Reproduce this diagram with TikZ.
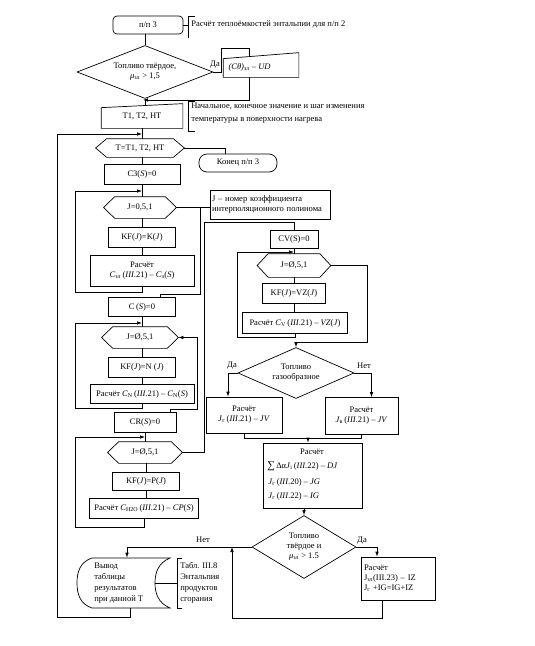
\documentclass[tikz,border=0pt]{standalone}
\usepackage{fontspec}
\setmainfont{Liberation Serif}
\usetikzlibrary{arrows.meta,shapes.geometric,calc}
\newcommand\hexn[6]{%
  \node[hexin, minimum width=#4, minimum height=#5] (#1) at (#2,#3) {#6};
  \draw (#1.west) -- ($(#1.north west)+(11,0)$) -- ($(#1.north east)+(-11,0)$) -- (#1.east) -- ($(#1.south east)+(-11,0)$) -- ($(#1.south west)+(11,0)$) -- cycle;}
\begin{document}
\begin{tikzpicture}[x=1pt,y=-1pt,line width=0.7pt,
  every node/.style={font=\fontsize{8.5}{10}\selectfont, inner sep=1pt},
  box/.style={draw, rectangle},
  hexin/.style={rectangle, inner sep=0pt},
  arr/.style={-{Latex[length=5pt,width=3.6pt]}},
  dia/.style={draw, diamond, inner sep=0pt, align=center},
  note/.style={align=left, font=\fontsize{8.5}{12.5}\selectfont},
]
\useasboundingbox (0,0) rectangle (535,646);

% ---------- top ----------
\node[draw, rounded corners=4pt, minimum width=70, minimum height=18] (n0) at (148,25) {п/п 3};
\draw (n0.east) -- (188,25);
\draw (195,16) -- (188,16) -- (188,38);
\node[anchor=west] (c0) at (190,24) {Расчёт теплоёмкостей энтальпии для п/п 2};

\node[dia, aspect=2.5, minimum width=136, minimum height=53] (d1) at (145,72) {Топливо твёрдое,\\ \textit{μ}\textsubscript{зл} > 1,5};
\draw (d1.north |- n0.south) -- (d1.north);
\node[inner sep=0pt] (yes1) at (215,65) {Да};

\node[minimum width=75, minimum height=24] (ud) at (261,65) {};
\draw[arr] (d1.east) -- (221,72) |- (249,48) |- (143,100);
\draw[fill=white] ($(ud.north west)+(0,6)$) -- (ud.north east) -- (ud.south east) -- (ud.south west) -- cycle;
\node[anchor=west] (udt) at ($(ud.west)+(4,2)$) {\textit{(Cθ)}\textsubscript{зл} \textit{– UD}};

\node[minimum width=81, minimum height=24] (t1) at (142,116) {T1, T2, HT};
\draw ($(t1.north west)+(0,4)$) -- (t1.north east) -- (t1.south east) -- (t1.south west) -- cycle;
\draw (d1.south) -- ($(d1.south |- t1.north)+(0,2)$);
\draw (195,101) -- (188,101) -- (188,131) -- (195,131);
\node[note, anchor=north west] (c1) at (190,102) {Начальное, конечное значение и шаг изменения\\температуры в поверхности нагрева};

% ---------- main loop ----------
\hexn{hT}{140}{148}{88}{18}{T=T1, T2, HT}
\draw (t1.south) -- (t1.south |- hT.north);
\node[draw, rounded corners=8pt, minimum width=78, minimum height=18] (kon) at (238,163) {Конец п/п 3};
\draw (hT.east) -| ($(kon.north)+(-13,0)$);

\node[box, minimum width=76, minimum height=20] (c3) at (142,174) {C3(\textit{S})=0};
\draw (c3.north |- hT.south) -- (c3.north);

% loop 1
\hexn{hJ1}{140}{207.5}{72}{21}{J=0,5,1}
\draw (c3.south) -- (c3.south |- hJ1.north);
\node[box, minimum width=67, minimum height=20] (kf1) at (142,237) {KF(\textit{J})=K(\textit{J})};
\draw (kf1.north |- hJ1.south) -- (kf1.north);
\node[box, minimum width=104, minimum height=31, align=center] (r1) at (142,270.5) {Расчёт\\ \textit{C}\textsubscript{зл}\,(\textit{III}.21) – \textit{C}\textsubscript{з}(\textit{S})};
\draw (kf1.south) -- (r1.north);
\draw[arr] (r1.south) |- (75,292) |- (142,191);
\node[draw, minimum width=120, minimum height=29, text width=116, align=left] (cJ) at (270,204.5) {J – номер коэффициента\\интерполяционного полинома};
\draw (hJ1.east) -- (hJ1.east -| cJ.west);

\node[box, minimum width=67, minimum height=19] (cS) at (142,307) {C\,(\textit{S})=0};
\draw ($(cS.north)+(18,0)$) |- (200,294) |- (hJ1.east);

% loop 2
\hexn{hJ2}{140}{337.5}{76}{21}{J=Ø,5,1}
\draw (cS.south) -- (cS.south |- hJ2.north);
\node[box, minimum width=67, minimum height=20] (kf2) at (142,367) {KF(\textit{J})=N (\textit{J})};
\draw (kf2.north |- hJ2.south) -- (kf2.north);
\node[box, minimum width=104, minimum height=19] (r2) at (142,394) {Расчёт \textit{C}\textsubscript{N}\,(\textit{III}.21) – \textit{C}\textsubscript{N}(\textit{S})};
\draw (kf2.south) -- (r2.north);
\draw[arr] (r2.south) |- (75,408) |- (142,323);

\node[box, minimum width=62, minimum height=20] (cr) at (145,422.5) {CR(\textit{S})=0};
\draw[arr] ($(cr.north)+(25,0)$) |- (197,409) |- (hJ2.east);

% loop 3
\hexn{hJ3}{145}{452.5}{74}{21}{J=Ø,5,1}
\draw (cr.south) -- (cr.south |- hJ3.north);
\node[box, minimum width=67, minimum height=18] (kf3) at (146,481) {KF(\textit{J})=P(\textit{J})};
\draw (kf3.north |- hJ3.south) -- (kf3.north);
\node[box, minimum width=109, minimum height=20] (r3) at (144,508) {Расчёт \textit{C}\textsubscript{H2O}\,(\textit{III}.21) – \textit{CP}(\textit{S})};
\draw (kf3.south |- r3.north) -- (kf3.south);
\draw[arr] (r3.south) |- (75,527) |- (145,437);

% ---------- right column ----------
\node[box, minimum width=48, minimum height=18] (cv) at (294,239) {CV(S)=0};
\draw (hJ3.east) -| (204,222) -| (cv.north);
\hexn{hR}{294}{265.5}{73}{23}{J=Ø,5,1}
\draw (cv.south) -- (hR.north);
\node[box, minimum width=63, minimum height=20] (kfR) at (294,293) {KF(\textit{J})=VZ(\textit{J})};
\draw (hR.south) -- (kfR.north);
\node[box, minimum width=105, minimum height=21] (rR) at (295,323) {Расчёт \textit{C}\textsubscript{V}\,(\textit{III}.21) – \textit{VZ}(\textit{J})};
\draw (kfR.south) -- (kfR.south |- rR.north);
\draw[arr] (rR.south) |- (237,337) |- (294,252);

\node[dia, aspect=2.3, minimum width=116, minimum height=51] (dG) at (296,373) {Топливо\\газообразное};
\draw[arr] (hR.east) -| (367,342) -| (dG.north);

\node[box, minimum width=76, minimum height=36, align=center] (rG1) at (244,415) {Расчёт\\ \textit{J}\textsubscript{г}\,(\textit{III}.21) – \textit{JV}};
\node[box, minimum width=73, minimum height=37, align=center] (rG2) at (361.5,416) {Расчёт\\ \textit{J}\textsubscript{в}\,(\textit{III}.21) – \textit{JV}};
\node[inner sep=0pt] (yes2) at (232,366) {Да};
\draw[arr] (dG.west) -| ($(rG1.north)+(-16,0)$);
\node[inner sep=0pt] (no2) at (364,366) {Нет};
\draw[arr] (dG.east) -| ($(rG2.north)+(10,0)$);

\node[box, minimum width=99, minimum height=65] (rB) at (312.5,475.5) {};
\draw (rG1.south) -- ++(0,5) -| (rG2.south);
\coordinate (mG) at (308,438);
\draw[arr] (mG) -- (mG |- rB.north);
\node (rBa) at (312,452) {Расчёт};
\node[anchor=west] (rBb) at (266,466) {{\fontsize{10.5}{10}\selectfont ∑}\,Δα\textit{J}\textsubscript{i}\,(\textit{III}.22) – \textit{DJ}};
\node[anchor=west] (rBc) at (267,482) {\textit{J}\textsubscript{г}\,(\textit{III}.20) – \textit{JG}};
\node[anchor=west] (rBd) at (267,496) {\textit{J}\textsubscript{г}\,(\textit{III}.22) – \textit{IG}};

\node[dia, aspect=1.65, minimum width=104, minimum height=63] (dT) at (304,547) {Топливо\\твёрдое и\\ \textit{μ}\textsubscript{зл} > 1.5};
\draw[arr] (dT.north |- rB.south) -- (dT.north);
\node[inner sep=0pt] (yes3) at (362,541) {Да};
\node[box, minimum width=74, minimum height=43, text width=68, align=left, inner sep=3pt] (rZ) at (398,578.5) {Расчёт\\J\textsubscript{зл}(III.23) – IZ\\J\textsubscript{г} +IG=IG+IZ};
\draw[arr] (dT.east) -| ($(rZ.north)+(-21,0)$);
\draw[arr] ($(rZ.south)+(-16,0)$) |- (232,618) -- (232,547);

% ---------- output ----------
\node[minimum width=93, minimum height=50] (out) at (123.5,583) {};
\node[inner sep=0pt] (no3) at (203,540) {Нет};
\draw[arr] (dT.west) -| ($(out.north)+(3.5,0)$);
\draw (92,558) -- (170,558) .. controls (158,563) and (155,573) .. (155,583) .. controls (155,593) and (158,603) .. (170,608) -- (92,608) .. controls (80,604) and (77,594) .. (77,583) .. controls (77,572) and (80,562) .. (92,558) -- cycle;
\node[anchor=west, align=left, font=\fontsize{8.5}{11}\selectfont] (outt) at (93,583) {Вывод\\таблицы\\результатов\\при данной T};
\draw (155,583) -- (177,583);
\draw (182,558) -- (177,558) -- (177,608) -- (182,608);
\node[anchor=west, align=left, font=\fontsize{8.5}{11}\selectfont] (tab) at (179,583) {Табл. III.8\\Энтальпия\\продуктов\\сгорания};
\draw[arr] ($(out.south)+(6.5,0)$) |- (57,617) |- (142,134);
\end{tikzpicture}
\end{document}
